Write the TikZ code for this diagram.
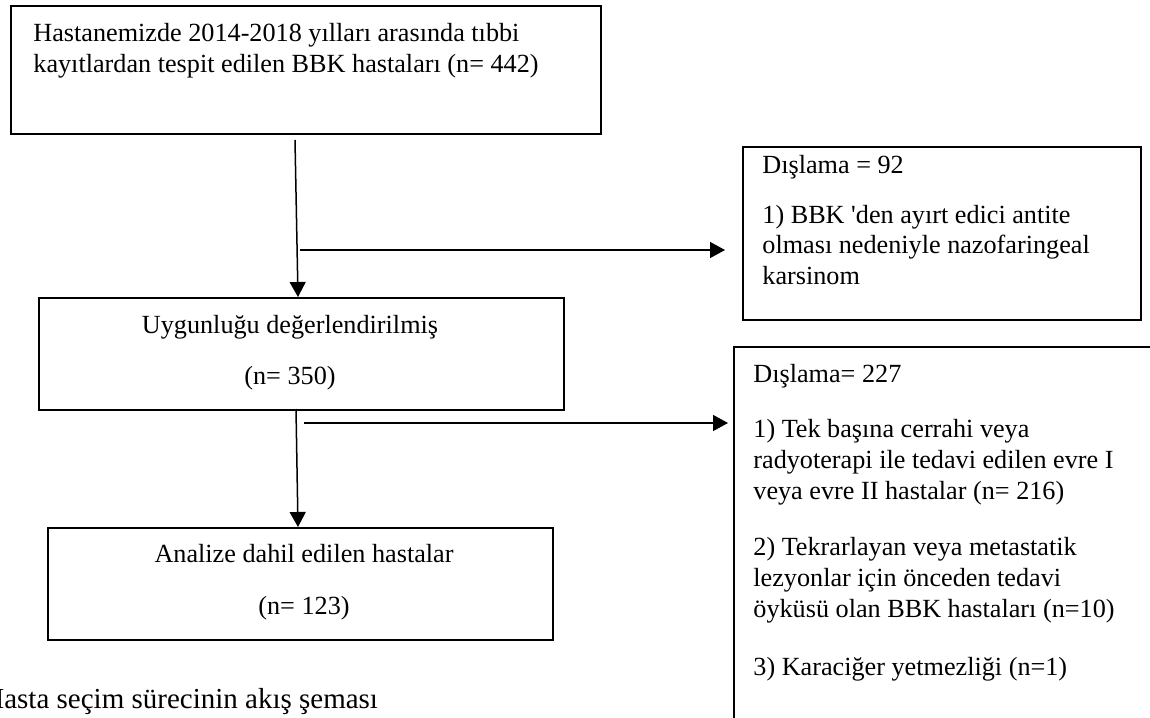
\documentclass[tikz,border=0pt]{standalone}
\usepackage{fontspec}
\setmainfont{Liberation Serif}
\usetikzlibrary{positioning,arrows.meta}

\newcommand{\satirlar}[2][l]{\begin{tabular}[t]{@{}#1@{}}#2\end{tabular}}

\tikzset{
  box/.style={draw, line width=1.2pt, rectangle, inner sep=0pt, anchor=north west},
  txt/.style={inner sep=0pt, anchor=base west, font=\fontsize{13.1}{15.25}\selectfont},
  arr/.style={line width=0.75pt, -{Triangle[length=7.5pt,width=8pt]}}
}

\begin{document}
\begin{tikzpicture}[x=0.5pt, y=-0.5pt]
        % ==== FRAME ====
        \useasboundingbox (0,0) rectangle (1150,717);
        \clip (0,0) rectangle (1150,717);

        % ==== BOXES ====
        \node[box, minimum width=295pt, minimum height=64pt] (kayit) at (10,5) {};
        \node[box, minimum width=262.5pt, minimum height=56pt] (uygun) at (38,297) {};
        \node[box, minimum width=252.5pt, minimum height=56pt] (analiz) at (47,527) {};
        \node[box, minimum width=199pt, minimum height=86.5pt] (dislama1) at (742,146) {};
        \node[box, minimum width=218.5pt, minimum height=197pt] (dislama2) at (733,346) {};

        % ==== TEXTS ====
        \node[txt] (kayitT) at (33,42) {\satirlar{Hastanemizde 2014-2018 yılları arasında tıbbi\\kayıtlardan tespit edilen BBK hastaları (n= 442)}};
        \node[txt, anchor=base] (uygunT) at (290,333) {\satirlar[c]{Uygunluğu değerlendirilmiş\\[10.25pt](n= 350)}};
        \node[txt, anchor=base] (analizT) at (304,562) {\satirlar[c]{Analize dahil edilen hastalar\\[11pt](n= 123)}};
        \node[txt] (dislama1T) at (762,173) {\satirlar{Dışlama = 92\\[9.75pt]1) BBK \textquotesingle den ayırt edici antite\\olması nedeniyle nazofaringeal\\karsinom}};
        \node[txt, font=\fontsize{13.1}{15.5}\selectfont] (dislama2T) at (753,382) {\satirlar{Dışlama= 227\\[12pt]1) Tek başına cerrahi veya\\radyoterapi ile tedavi edilen evre I\\veya evre II hastalar (n= 216)\\[12.5pt]2) Tekrarlayan veya metastatik\\lezyonlar için önceden tedavi\\öyküsü olan BBK hastaları (n=10)\\[13.5pt]3) Karaciğer yetmezliği (n=1)}};

        % ==== ARROWS ====
        \coordinate (s1) at (295,140);
        \coordinate (h1) at (300,250);
        \coordinate (s2) at (296,409);
        \coordinate (h2) at (304,423);
        \draw[arr] (s1) -- ([xshift=1.5pt]s1 |- uygun.north);
        \draw[arr, shorten >=8.5pt] (h1) -- (h1 -| dislama1.west);
        \draw[arr] (s2) -- ([xshift=1pt]s2 |- analiz.north);
        \draw[arr, shorten >=2.5pt] (h2) -- (h2 -| dislama2.west);

        % ==== CAPTION ====
        \node[txt, font=\fontsize{14.5}{17}\selectfont] (baslik) at (-17,708) {Hasta seçim sürecinin akış şeması};

    \end{tikzpicture}
\end{document}
